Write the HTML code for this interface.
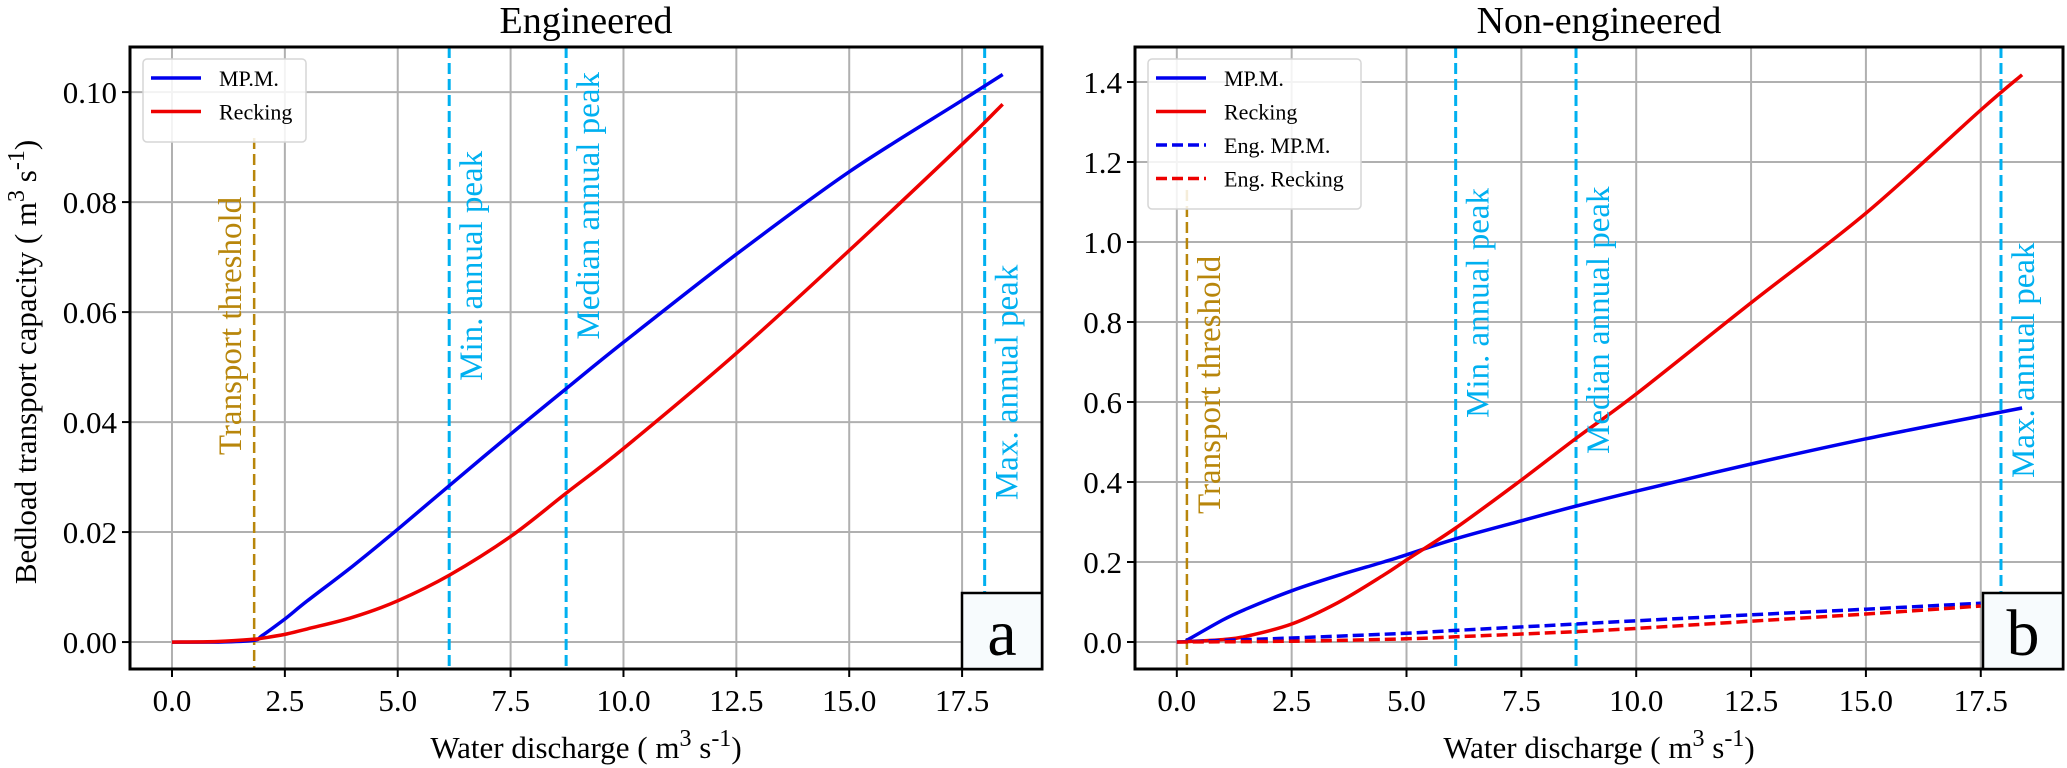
<!DOCTYPE html>
<html><head><meta charset="utf-8">
<style>
html,body{margin:0;padding:0;background:#fff;}
svg{display:block;}
text{font-family:"Liberation Serif","DejaVu Serif",serif;}
</style></head>
<body>
<svg id="chart" width="2067" height="768" viewBox="0 0 2067 768" xmlns="http://www.w3.org/2000/svg"></svg>
<script>
// ---------- Data ----------
// Panel a (Engineered)
const aX = [0, 1.0, 1.8, 2.0, 2.5, 3.0, 4.0, 5.0, 6.15, 7.5, 8.75, 10.0, 12.5, 15.0, 17.5, 18.4];
const aMPM = [0, 0, 0.0003, 0.0012, 0.0042, 0.0075, 0.0138, 0.0205, 0.0285, 0.0378, 0.0462, 0.0545, 0.0705, 0.0855, 0.0985, 0.1032];
const aRecking = [0, 0.0001, 0.0005, 0.0007, 0.0014, 0.0024, 0.0045, 0.0075, 0.0122, 0.0192, 0.0272, 0.0352, 0.0525, 0.0712, 0.0905, 0.0978];
// Panel b (Non-engineered)
const bX = [0.2, 1.0, 1.5, 2.5, 3.5, 4.5, 5.0, 6.07, 7.5, 8.7, 10.0, 12.5, 15.0, 17.5, 18.4];
const bMPM = [0.003, 0.055, 0.082, 0.128, 0.166, 0.2, 0.218, 0.258, 0.303, 0.34, 0.377, 0.445, 0.508, 0.565, 0.585];
const bRecking = [0.001, 0.006, 0.014, 0.045, 0.098, 0.167, 0.205, 0.285, 0.405, 0.51, 0.62, 0.848, 1.072, 1.33, 1.418];
const bEngX = [0, 2.5, 5.0, 6.07, 8.7, 10.0, 12.5, 15.0, 17.5];
const bEngMPM = [0, 0.01, 0.022, 0.029, 0.045, 0.053, 0.068, 0.082, 0.097];
const bEngRecking = [0, 0.002, 0.008, 0.013, 0.026, 0.034, 0.052, 0.07, 0.09];
// Vertical reference lines (x values)
const aVLines = [1.82, 6.14, 8.73, 18.0];
const bVLines = [0.22, 6.07, 8.69, 17.94];
const vLabels = ["Transport threshold", "Min. annual peak", "Median annual peak", "Max. annual peak"];
// label bottom positions in data y
const aLabelY = [0.034, 0.0475, 0.055, 0.0258];
const bLabelY = [0.32, 0.56, 0.47, 0.41];
// Ticks
const xTicks = [0, 2.5, 5, 7.5, 10, 12.5, 15, 17.5];
const xTickLabels = ["0.0", "2.5", "5.0", "7.5", "10.0", "12.5", "15.0", "17.5"];
const aYTicks = [0, 0.02, 0.04, 0.06, 0.08, 0.10];
const aYTickLabels = ["0.00", "0.02", "0.04", "0.06", "0.08", "0.10"];
const bYTicks = [0, 0.2, 0.4, 0.6, 0.8, 1.0, 1.2, 1.4];
const bYTickLabels = ["0.0", "0.2", "0.4", "0.6", "0.8", "1.0", "1.2", "1.4"];

const NS = "http://www.w3.org/2000/svg";
const svg = document.getElementById('chart');
function mk(tag, attrs, parent) {
  const e = document.createElementNS(NS, tag);
  for (const k in attrs) e.setAttribute(k, attrs[k]);
  (parent || svg).appendChild(e);
  return e;
}

function smoothPath(pts) {
  let d = 'M' + pts[0][0].toFixed(1) + ',' + pts[0][1].toFixed(1);
  for (let i = 0; i < pts.length - 1; i++) {
    const p0 = pts[Math.max(0, i - 1)], p1 = pts[i], p2 = pts[i + 1], p3 = pts[Math.min(pts.length - 1, i + 2)];
    const c1x = p1[0] + (p2[0] - p0[0]) / 6, c1y = p1[1] + (p2[1] - p0[1]) / 6;
    const c2x = p2[0] - (p3[0] - p1[0]) / 6, c2y = p2[1] - (p3[1] - p1[1]) / 6;
    d += 'C' + c1x.toFixed(1) + ',' + c1y.toFixed(1) + ' ' + c2x.toFixed(1) + ',' + c2y.toFixed(1) + ' ' + p2[0].toFixed(1) + ',' + p2[1].toFixed(1);
  }
  return d;
}

function panel(cfg) {
  const g = mk('g', {});
  
  
  const L = cfg.left, R = cfg.right, T = 47, B = 669;
  const sx = v => L + (v - cfg.xmin) / (cfg.xmax - cfg.xmin) * (R - L);
  const sy = v => B - (v - cfg.ymin) / (cfg.ymax - cfg.ymin) * (B - T);
  const clipId = cfg.name + '-clip';
  const defs = mk('defs', {}, g);
  const cp = mk('clipPath', {id: clipId}, defs);
  mk('rect', {x: L, y: T, width: R - L, height: B - T}, cp);
  xTicks.forEach(t => {
    const l = mk('line', {x1: sx(t), x2: sx(t), y1: T, y2: B, stroke: '#b0b0b0', 'stroke-width': 2}, g);
    
    
  });
  cfg.yTicks.forEach(t => {
    const l = mk('line', {x1: L, x2: R, y1: sy(t), y2: sy(t), stroke: '#b0b0b0', 'stroke-width': 2}, g);
    
    
  });
  const plot = mk('g', {'clip-path': 'url(#' + clipId + ')'}, g);
  cfg.vlines.forEach((v, i) => {
    const col = i === 0 ? '#b8860b' : '#00b0f0';
    const l = mk('line', {x1: sx(v), x2: sx(v), y1: i === 0 ? cfg.threshTop : T, y2: B, stroke: col, 'stroke-width': i === 0 ? 2.5 : 3, 'stroke-dasharray': '11,5'}, plot);
    
    
    const side = (cfg.labelLeft[i]) ? -23 : 23;
    const tx = sx(v) + side, ty = sy(cfg.labelY[i]);
    const t = mk('text', {x: tx, y: ty, 'font-size': 33, fill: col, transform: 'rotate(-90 ' + tx + ' ' + ty + ')', 'dominant-baseline': 'central'}, g);
    t.textContent = vLabels[i];
    
    
  });
  cfg.series.forEach(s => {
    const pts = s.x.map((x, i) => [sx(x), sy(s.y[i])]);
    const p = mk('path', {d: smoothPath(pts), fill: 'none', stroke: s.color, 'stroke-width': 3.5, 'stroke-dasharray': s.dash || 'none', 'stroke-linejoin': 'round'}, plot);
    
    
  });
  const fr = mk('rect', {x: L, y: T, width: R - L, height: B - T, fill: 'none', stroke: '#000', 'stroke-width': 3}, g);
  
  
  xTicks.forEach((t, i) => {
    mk('line', {x1: sx(t), x2: sx(t), y1: B, y2: B + 8, stroke: '#000', 'stroke-width': 2}, g);
    const tl = mk('text', {x: sx(t), y: 711, 'font-size': 31, 'text-anchor': 'middle', fill: '#000'}, g);
    tl.textContent = xTickLabels[i];
    
    
  });
  cfg.yTicks.forEach((t, i) => {
    mk('line', {x1: L - 8, x2: L, y1: sy(t), y2: sy(t), stroke: '#000', 'stroke-width': 2}, g);
    const tl = mk('text', {x: L - 13, y: sy(t) + 11, 'font-size': 31, 'text-anchor': 'end', fill: '#000'}, g);
    tl.textContent = cfg.yTickLabels[i];
    
    
  });
  const xt = mk('text', {x: (L + R) / 2, y: 758, 'font-size': 31, 'text-anchor': 'middle', fill: '#000'}, g);
  xt.innerHTML = 'Water discharge ( m<tspan font-size="24" dy="-12">3</tspan><tspan dy="12"> s</tspan><tspan font-size="24" dy="-12">-1</tspan><tspan dy="12">)</tspan>';
  
  
  const ti = mk('text', {x: (L + R) / 2, y: 33, 'font-size': 38, 'text-anchor': 'middle', fill: '#000'}, g);
  ti.textContent = cfg.title;
  
  
  const lg = mk('g', {}, g);
  
  
  const lx = L + 13, ly = 59;
  mk('rect', {x: lx, y: ly, width: cfg.legendW, height: 16 + cfg.series.length * 33.5, rx: 4, fill: 'rgba(255,255,255,0.85)', stroke: '#d6d6d6', 'stroke-width': 1.5}, lg);
  cfg.series.forEach((s, i) => {
    const yy = ly + 19 + i * 33.5;
    const e = mk('g', {}, lg);
    
    
    mk('line', {x1: lx + 8, x2: lx + 58, y1: yy, y2: yy, stroke: s.color, 'stroke-width': 3.5, 'stroke-dasharray': s.dash ? '11,5' : 'none'}, e);
    const t = mk('text', {x: lx + 76, y: yy + 8, 'font-size': 22, fill: '#000'}, e);
    t.textContent = s.label;
  });
  const bx = mk('g', {}, g);
  
  
  mk('rect', {x: cfg.boxX, y: 593, width: R - cfg.boxX, height: B - 593, fill: '#f7fbfd', stroke: '#000', 'stroke-width': 2.5}, bx);
  const lt = mk('text', {x: (cfg.boxX + R) / 2, y: 655, 'font-size': 66, 'text-anchor': 'middle', fill: '#000'}, bx);
  lt.textContent = cfg.letter;
}

panel({
  name: 'panel-engineered', title: 'Engineered', letter: 'a',
  left: 130, right: 1042, xmin: -0.93, xmax: 19.27, ymin: -0.0049, ymax: 0.1082,
  yTicks: aYTicks, yTickLabels: aYTickLabels,
  vlines: aVLines, labelY: aLabelY, labelLeft: [true, false, false, false], threshTop: 138,
  legendW: 163, boxX: 962,
  series: [
    {name: 'series-mpm', label: 'MP.M.', x: aX, y: aMPM, color: '#0000ee'},
    {name: 'series-recking', label: 'Recking', x: aX, y: aRecking, color: '#ee0000'}
  ]
});
panel({
  name: 'panel-non-engineered', title: 'Non-engineered', letter: 'b',
  left: 1135, right: 2063, xmin: -0.91, xmax: 19.29, ymin: -0.0675, ymax: 1.4875,
  yTicks: bYTicks, yTickLabels: bYTickLabels,
  vlines: bVLines, labelY: bLabelY, labelLeft: [false, false, false, false], threshTop: 190,
  legendW: 213, boxX: 1983,
  series: [
    {name: 'series-mpm', label: 'MP.M.', x: bX, y: bMPM, color: '#0000ee'},
    {name: 'series-recking', label: 'Recking', x: bX, y: bRecking, color: '#ee0000'},
    {name: 'series-eng-mpm', label: 'Eng. MP.M.', x: bEngX, y: bEngMPM, color: '#0000ee', dash: '11,5'},
    {name: 'series-eng-recking', label: 'Eng. Recking', x: bEngX, y: bEngRecking, color: '#ee0000', dash: '11,5'}
  ]
});

const yt = mk('text', {x: 0, y: 0, 'font-size': 31, 'text-anchor': 'middle', fill: '#000', transform: 'translate(36 362) rotate(-90)'});
yt.innerHTML = 'Bedload transport capacity ( m<tspan font-size="24" dy="-12">3</tspan><tspan dy="12"> s</tspan><tspan font-size="24" dy="-12">-1</tspan><tspan dy="12">)</tspan>';


</script>
</body></html>
